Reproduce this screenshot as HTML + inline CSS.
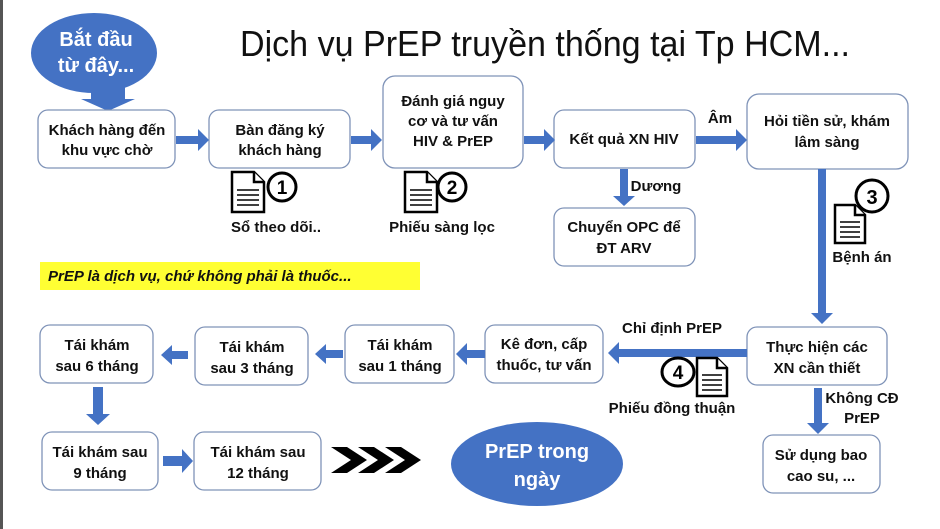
<!DOCTYPE html>
<html><head><meta charset="utf-8"><style>
html,body{margin:0;padding:0;background:#fff;}
svg{display:block;font-family:"Liberation Sans","DejaVu Sans",sans-serif;}
.b{fill:#fff;stroke:#7f93b8;stroke-width:1.3;}
.t{font-weight:bold;font-size:15px;fill:#111;text-anchor:middle;}
.a{fill:#4472c4;}
.d{fill:#fff;stroke:#000;stroke-width:2.5;}
.l{stroke:#000;stroke-width:1.6;}
</style></head><body>
<svg width="940" height="529" viewBox="0 0 940 529" xmlns="http://www.w3.org/2000/svg">
<rect x="0" y="0" width="940" height="529" fill="#fff"/>
<rect x="0" y="0" width="3" height="529" fill="#555"/>

<!-- title -->
<text x="240" y="56" font-size="36" fill="#111" textLength="610" lengthAdjust="spacingAndGlyphs">Dịch vụ PrEP truyền thống tại Tp HCM...</text>

<!-- start ellipse -->
<ellipse cx="94" cy="53" rx="63" ry="40" fill="#4472c4"/>
<text x="96" y="46" font-size="20" font-weight="bold" fill="#fff" text-anchor="middle">Bắt đầu</text>
<text x="96" y="72" font-size="20" font-weight="bold" fill="#fff" text-anchor="middle">từ đây...</text>
<polygon class="a" points="91,83 125,83 125,99 135,99 108,111 81,99 91,99"/>

<!-- row1 boxes -->
<rect class="b" x="38" y="110" width="137" height="58" rx="10"/>
<text class="t" x="107" y="135">Khách hàng đến</text><text class="t" x="107" y="155">khu vực chờ</text>
<rect class="b" x="209" y="110" width="141" height="58" rx="10"/>
<text class="t" x="280" y="135">Bàn đăng ký</text><text class="t" x="280" y="155">khách hàng</text>
<rect class="b" x="383" y="76" width="140" height="92" rx="12"/>
<text class="t" x="453" y="106">Đánh giá nguy</text><text class="t" x="453" y="126">cơ và tư vấn</text><text class="t" x="453" y="146">HIV &amp; PrEP</text>
<rect class="b" x="554" y="110" width="141" height="58" rx="10"/>
<text class="t" x="624" y="144">Kết quả XN HIV</text>
<rect class="b" x="747" y="94" width="161" height="75" rx="12"/>
<text class="t" x="827" y="126">Hỏi tiền sử, khám</text><text class="t" x="827" y="147">lâm sàng</text>
<rect class="b" x="554" y="208" width="141" height="58" rx="10"/>
<text class="t" x="624" y="232">Chuyển OPC để</text><text class="t" x="624" y="253">ĐT ARV</text>

<!-- row1 arrows -->
<polygon class="a" points="176,136 198,136 198,129 209,140 198,151 198,144 176,144"/>
<polygon class="a" points="351,136 371,136 371,129 382,140 371,151 371,144 351,144"/>
<polygon class="a" points="524,136 544,136 544,129 555,140 544,151 544,144 524,144"/>
<polygon class="a" points="696,136 736,136 736,129 747,140 736,151 736,144 696,144"/>
<text class="t" x="720" y="123">Âm</text>
<polygon class="a" points="620,169 628,169 628,196 635,196 624,206 613,196 620,196"/>
<text class="t" x="656" y="191" text-anchor="middle">Dương</text>
<polygon class="a" points="818,169 826,169 826,313 833,313 822,324 811,313 818,313"/>

<!-- doc icons -->
<g transform="translate(232,172)"><path class="d" d="M0,0 H22 L32,10 V40 H0 Z"/><path class="d" d="M22,0 V10 H32" fill="none"/><path class="l" d="M5,18h22M5,23h22M5,28h22M5,33h22"/></g>
<circle cx="282" cy="187" r="14" fill="#fff" stroke="#000" stroke-width="3"/><text x="282" y="194" font-size="19" font-weight="bold" text-anchor="middle">1</text>
<text class="t" x="276" y="232">Sổ theo dõi..</text>
<g transform="translate(405,172)"><path class="d" d="M0,0 H22 L32,10 V40 H0 Z"/><path class="d" d="M22,0 V10 H32" fill="none"/><path class="l" d="M5,18h22M5,23h22M5,28h22M5,33h22"/></g>
<circle cx="452" cy="187" r="14" fill="#fff" stroke="#000" stroke-width="3"/><text x="452" y="194" font-size="19" font-weight="bold" text-anchor="middle">2</text>
<text class="t" x="442" y="232">Phiếu sàng lọc</text>
<g transform="translate(835,205)"><path class="d" d="M0,0 H20 L30,10 V38 H0 Z"/><path class="d" d="M20,0 V10 H30" fill="none"/><path class="l" d="M5,17h20M5,22h20M5,27h20M5,32h20"/></g>
<circle cx="872" cy="196" r="16" fill="#fff" stroke="#000" stroke-width="3"/><text x="872" y="204" font-size="20" font-weight="bold" text-anchor="middle">3</text>
<text class="t" x="862" y="262">Bệnh án</text>

<!-- yellow note -->
<rect x="40" y="262" width="380" height="28" fill="#ffff33"/>
<text x="48" y="281" font-size="15" font-weight="bold" font-style="italic" fill="#111">PrEP là dịch vụ, chứ không phải là thuốc...</text>

<!-- row2 -->
<rect class="b" x="747" y="327" width="140" height="58" rx="10"/>
<text class="t" x="817" y="352">Thực hiện các</text><text class="t" x="817" y="373">XN cần thiết</text>
<polygon class="a" points="747,349 619,349 619,342 608,353 619,364 619,357 747,357"/>
<text class="t" x="672" y="333">Chỉ định PrEP</text>
<ellipse cx="678" cy="372" rx="16" ry="14" fill="#fff" stroke="#000" stroke-width="3"/><text x="678" y="379" font-size="19" font-weight="bold" text-anchor="middle">4</text>
<g transform="translate(697,358)"><path class="d" d="M0,0 H20 L30,10 V38 H0 Z"/><path class="d" d="M20,0 V10 H30" fill="none"/><path class="l" d="M5,17h20M5,22h20M5,27h20M5,32h20"/></g>
<text class="t" x="672" y="413">Phiếu đồng thuận</text>

<rect class="b" x="485" y="325" width="118" height="58" rx="10"/>
<text class="t" x="544" y="349">Kê đơn, cấp</text><text class="t" x="544" y="370">thuốc, tư vấn</text>
<polygon class="a" points="485,350 467,350 467,343 456,354 467,365 467,358 485,358"/>
<rect class="b" x="345" y="325" width="109" height="58" rx="10"/>
<text class="t" x="400" y="350">Tái khám</text><text class="t" x="400" y="371">sau 1 tháng</text>
<polygon class="a" points="343,350 326,350 326,344 315,354 326,364 326,358 343,358"/>
<rect class="b" x="195" y="327" width="113" height="58" rx="10"/>
<text class="t" x="252" y="352">Tái khám</text><text class="t" x="252" y="373">sau 3 tháng</text>
<polygon class="a" points="188,351 172,351 172,345 161,355 172,365 172,359 188,359"/>
<rect class="b" x="40" y="325" width="113" height="58" rx="10"/>
<text class="t" x="97" y="350">Tái khám</text><text class="t" x="97" y="371">sau 6 tháng</text>
<polygon class="a" points="93,387 103,387 103,414 110,414 98,425 86,414 93,414"/>

<rect class="b" x="42" y="432" width="116" height="58" rx="10"/>
<text class="t" x="100" y="457">Tái khám sau</text><text class="t" x="100" y="478">9 tháng</text>
<polygon class="a" points="163,456 182,456 182,449 193,461 182,473 182,466 163,466"/>
<rect class="b" x="194" y="432" width="127" height="58" rx="10"/>
<text class="t" x="258" y="457">Tái khám sau</text><text class="t" x="258" y="478">12 tháng</text>

<!-- chevrons -->
<polygon fill="#000" points="331,447 347,447 367,460 347,473 331,473 351,460"/>
<polygon fill="#000" points="358,447 374,447 394,460 374,473 358,473 378,460"/>
<polygon fill="#000" points="385,447 401,447 421,460 401,473 385,473 405,460"/>

<ellipse cx="537" cy="464" rx="86" ry="42" fill="#4472c4"/>
<text x="537" y="458" font-size="20" font-weight="bold" fill="#fff" text-anchor="middle">PrEP trong</text>
<text x="537" y="486" font-size="20" font-weight="bold" fill="#fff" text-anchor="middle">ngày</text>

<polygon class="a" points="814,388 822,388 822,423 829,423 818,434 807,423 814,423"/>
<text class="t" x="862" y="403">Không CĐ</text><text class="t" x="862" y="423">PrEP</text>
<rect class="b" x="763" y="435" width="117" height="58" rx="10"/>
<text class="t" x="821" y="460">Sử dụng bao</text><text class="t" x="821" y="481">cao su, ...</text>
</svg>
</body></html>
